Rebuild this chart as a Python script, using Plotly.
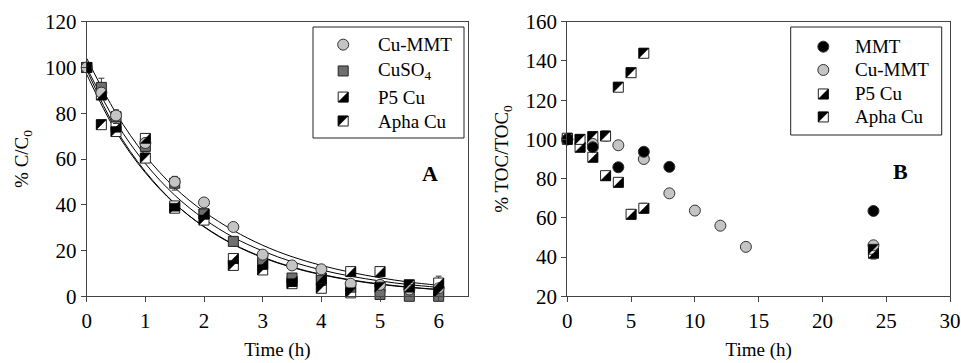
import plotly.graph_objects as go

# ---------------- Panel A data ----------------
tA = [0, 0.25, 0.5, 1, 1.5, 2, 2.5, 3, 3.5, 4, 4.5, 5, 5.5, 6]
cummt_A = [100, 89, 79, 67, 50, 41, 30.3, 18.2, 13.5, 11.8, 5.5, 5, 3, 3.5]
cuso4_A = [100, 91.3, 78.5, 65.5, 49.4, 36, 24, 16, 8, 7, 4, 0.8, 0, 0]
p5_A = [100, 88, 74, 69, 39.5, 36, 16.5, 14, 6.5, 8, 10.8, 10.8, 4, 5.8]
apha_A = [100, 75, 72, 60.4, 38.5, 33.3, 13.5, 11.5, 5.5, 3.5, 1.5, 4, 5, 1.5]
err_cummt_A = [2, 2, 2, 2, 2, 1, 1, 1, 1, 1, 1, 1, 1, 1]
err_cuso4_A = [2, 4, 3, 2, 3, 1, 2, 1, 1, 1, 1, 1, 0.5, 0.5]
err_p5_A = [2, 2, 2, 2, 1.5, 2, 2, 1.5, 1.5, 1.5, 1, 1, 1, 3]
err_apha_A = [2, 1, 1, 1, 1.5, 1, 1.5, 1, 1, 1, 1, 1, 1, 1]

# fitted curves
tfit = [0, 0.5, 1, 1.5, 2, 2.5, 3, 3.5, 4, 4.5, 5, 5.5, 6]
fit1 = [104, 80, 61.5, 47.5, 37, 28.8, 22.3, 17.3, 13.5, 10.5, 8.1, 6.2, 4.8]
fit2 = [100, 76, 58, 44.2, 33.8, 25.8, 19.8, 15.1, 11.5, 8.8, 6.7, 5.1, 3.9]
fit3 = [97, 72, 54, 40.5, 30.5, 22.8, 17.1, 12.8, 9.6, 7.2, 5.4, 4.0, 3.0]
fit4 = [99, 73, 54.5, 40.6, 30.3, 22.6, 16.9, 12.6, 9.4, 7.0, 5.2, 3.9, 2.9]

# ---------------- Panel B data ----------------
t_mmt_B = [0, 2, 4, 6, 8, 24]
mmt_B = [100, 96, 85.8, 93.7, 86, 63.5]
t_cummt_B = [0, 2, 4, 6, 8, 10, 12, 14, 24]
cummt_B = [100, 97.7, 97, 90, 72.5, 63.7, 56, 45.2, 46]
t_cu_B = [0, 1, 2, 3, 4, 5, 6, 24]
p5_B = [100, 96, 90.9, 81.5, 78.1, 61.8, 64.9, 42]
apha_B = [100.6, 100, 101.4, 101.7, 126.6, 134, 143.9, 44]
err_p5_B = [1, 1, 1, 1, 1.5, 2.5, 2.5, 3]
err_apha_B = [2, 2, 2.5, 2.5, 2, 2, 1, 2]

legA_names = ["Cu-MMT", "CuSO<sub>4</sub>", "P5 Cu", "Apha Cu"]
legB_names = ["MMT", "Cu-MMT", "P5 Cu", "Apha Cu"]

FONT = "Liberation Serif"
W, H = 961, 363
MS = 10  # marker size
h = MS / 2

LIGHT = "#c4c4c4"
DARK = "#6e6e6e"

fig = go.Figure()
shapes = []
annotations = []

def circle_trace(x, y, fill, xa, ya, err=None):
    return go.Scatter(x=x, y=y, mode="markers", xaxis=xa, yaxis=ya, showlegend=False,
                      cliponaxis=False,
                      marker=dict(symbol="circle", size=MS + 1, color=fill,
                                  line=dict(color="#333333", width=1)),
                      error_y=(dict(type="data", array=err, color="#333333", thickness=1, width=3)
                               if err is not None else None))

def square_trace(x, y, fill, xa, ya, err=None):
    return go.Scatter(x=x, y=y, mode="markers", xaxis=xa, yaxis=ya, showlegend=False,
                      cliponaxis=False,
                      marker=dict(symbol="square", size=MS, color=fill,
                                  line=dict(color="#222222", width=1)),
                      error_y=(dict(type="data", array=err, color="#333333", thickness=1, width=3)
                               if err is not None else None))

def half_shapes(x, y, xref, yref, kind):
    # black triangle inside square marker; kind 'se' = lower-right black, 'nw' = upper-left black
    if kind == "se":
        path = f"M {-h},{-h} L {h},{-h} L {h},{h} Z"
    else:
        path = f"M {-h},{h} L {h},{h} L {-h},{-h} Z"
    for xi, yi in zip(x, y):
        shapes.append(dict(type="path", xref=xref, yref=yref, xsizemode="pixel", ysizemode="pixel",
                           xanchor=xi, yanchor=yi, path=path, fillcolor="black",
                           line=dict(color="black", width=0.5), layer="above"))

# ---- Panel A ----
for f in [fit1, fit2, fit3, fit4]:
    fig.add_trace(go.Scatter(x=tfit, y=f, mode="lines", line=dict(color="black", width=1, shape="spline"),
                             xaxis="x", yaxis="y", showlegend=False))
fig.add_trace(square_trace(tA, apha_A, "white", "x", "y", err_apha_A))
half_shapes(tA, apha_A, "x", "y", "nw")
fig.add_trace(square_trace(tA, p5_A, "white", "x", "y", err_p5_A))
half_shapes(tA, p5_A, "x", "y", "se")
fig.add_trace(square_trace(tA, cuso4_A, DARK, "x", "y", err_cuso4_A))
fig.add_trace(circle_trace(tA, cummt_A, LIGHT, "x", "y", err_cummt_A))

# ---- Panel B ----
fig.add_trace(square_trace(t_cu_B, p5_B, "white", "x2", "y2", err_p5_B))
half_shapes(t_cu_B, p5_B, "x2", "y2", "se")
fig.add_trace(square_trace(t_cu_B, apha_B, "white", "x2", "y2", err_apha_B))
half_shapes(t_cu_B, apha_B, "x2", "y2", "nw")
fig.add_trace(circle_trace(t_cummt_B, cummt_B, LIGHT, "x2", "y2"))
fig.add_trace(circle_trace(t_mmt_B, mmt_B, "black", "x2", "y2"))

# ---- manual legends (hidden axes x3/y3, x4/y4) ----
rowsA = [0.841, 0.604, 0.369, 0.153]
rowsB = [0.818, 0.602, 0.380, 0.167]
mxA, txA = 0.2, 0.42
mxB, txB = 0.216, 0.41

fig.add_trace(circle_trace([mxA], [rowsA[0]], LIGHT, "x3", "y3"))
fig.add_trace(square_trace([mxA], [rowsA[1]], DARK, "x3", "y3"))
fig.add_trace(square_trace([mxA, mxA], [rowsA[2], rowsA[3]], "white", "x3", "y3"))
half_shapes([mxA], [rowsA[2]], "x3", "y3", "se")
half_shapes([mxA], [rowsA[3]], "x3", "y3", "nw")

fig.add_trace(circle_trace([mxB], [rowsB[0]], "black", "x4", "y4"))
fig.add_trace(circle_trace([mxB], [rowsB[1]], LIGHT, "x4", "y4"))
fig.add_trace(square_trace([mxB, mxB], [rowsB[2], rowsB[3]], "white", "x4", "y4"))
half_shapes([mxB], [rowsB[2]], "x4", "y4", "se")
half_shapes([mxB], [rowsB[3]], "x4", "y4", "nw")

for name, r in zip(legA_names, rowsA):
    annotations.append(dict(x=txA, y=r, xref="x3", yref="y3", text=name, showarrow=False,
                            xanchor="left", yanchor="middle", font=dict(family=FONT, size=19, color="black")))
for name, r in zip(legB_names, rowsB):
    annotations.append(dict(x=txB, y=r, xref="x4", yref="y4", text=name, showarrow=False,
                            xanchor="left", yanchor="middle", font=dict(family=FONT, size=19, color="black")))

for xr, yr in [("x3", "y3"), ("x4", "y4")]:
    shapes.append(dict(type="rect", xref=f"{xr} domain", yref=f"{yr} domain", x0=0, x1=1, y0=0, y1=1,
                       line=dict(color="#222222", width=1), fillcolor="rgba(0,0,0,0)", layer="above"))

# panel letters
annotations.append(dict(x=430 / W, y=1 - 173 / H, xref="paper", yref="paper", text="<b>A</b>", showarrow=False,
                        font=dict(family=FONT, size=22, color="black")))
annotations.append(dict(x=910 / W, y=1 - 171 / H, xref="paper", yref="paper", text="<b>B</b>", showarrow=False,
                        font=dict(family=FONT, size=22, color="black")))

ydom = [1 - 296.3 / H, 1 - 21.7 / H]

def axis(domain, rng, dtick, anchor, title, standoff):
    return dict(domain=domain, range=rng, dtick=dtick, anchor=anchor, showline=True, linecolor="#444444",
                linewidth=1, mirror=True, ticks="outside", ticklen=5, tickcolor="#444444", showgrid=False,
                zeroline=False, automargin=False,
                tickfont=dict(family=FONT, size=21, color="black"),
                title=dict(text=title, font=dict(family=FONT, size=19, color="black"), standoff=standoff))

hidden = dict(visible=False, range=[0, 1], fixedrange=True, showgrid=False, zeroline=False)

fig.update_layout(
    width=W, height=H, margin=dict(l=0, r=0, t=0, b=0),
    paper_bgcolor="white", plot_bgcolor="white", showlegend=False,
    xaxis=axis([86.7 / W, 468 / W], [0, 6.5], 1, "y", "Time (h)", 11),
    yaxis=axis(ydom, [0, 120], 20, "x", "% C/C<sub>0</sub>", 11),
    xaxis2=axis([567.3 / W, 950 / W], [0, 30], 5, "y2", "Time (h)", 11),
    yaxis2=axis(ydom, [20, 160], 20, "x2", "% TOC/TOC<sub>0</sub>", 11),
    xaxis3=dict(hidden, domain=[313 / W, 464 / W], anchor="y3"),
    yaxis3=dict(hidden, domain=[1 - 138 / H, 1 - 27 / H], anchor="x3"),
    xaxis4=dict(hidden, domain=[790.7 / W, 941.7 / W], anchor="y4"),
    yaxis4=dict(hidden, domain=[1 - 135 / H, 1 - 27 / H], anchor="x4"),
    shapes=shapes, annotations=annotations,
)

fig.write_html("out.html")
